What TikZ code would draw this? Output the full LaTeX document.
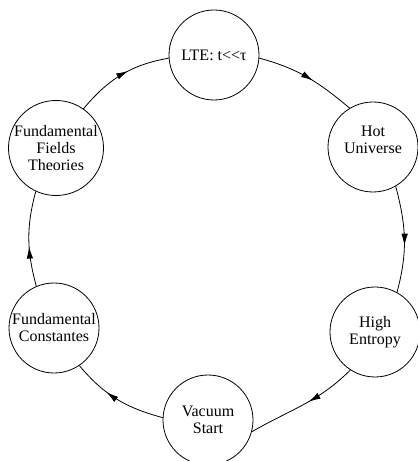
\documentclass[tikz,border=0pt]{standalone}
\usepackage{fontspec}
\setmainfont{Liberation Serif}
\usetikzlibrary{arrows.meta,decorations.markings}
\begin{document}
\begin{tikzpicture}[x=1pt,y=1pt,
  state/.style={circle,draw,line width=0.8pt,minimum size=90pt,inner sep=0pt,align=center,font=\fontsize{16}{17}\selectfont},
  flow/.style={line width=0.8pt,postaction={decorate},decoration={markings,mark=at position #1 with {\arrow{Latex[length=12pt,width=6.5pt]}}}},
  flow/.default=0.56]
\useasboundingbox (0,0) rectangle (418,461);
\node[state] (LTE) at (214,406) {LTE: t{<}{<}τ};
\node[state] (Hot) at (373,314) {Hot\\Universe\\[-3pt]\rule{0pt}{0pt}};
\node[state] (High) at (375,129) {High\\Entropy};
\node[state] (Vac) at (208,41) {Vacuum\\Start};
\node[state] (FC) at (54,133) {Fundamental\\Constantes};
\node[state] (FFT) at (56,313) {Fundamental\\Fields\\Theories};
\draw[flow=0.58] (FFT.55) to[out=50,in=190] (LTE.184);
\draw[flow] (LTE.-4) to[out=-15,in=140] (Hot.121);
\draw[flow] (Hot.-60) to[out=-75,in=75] (High.61);
\draw[flow=0.45] (High.-123) to[out=225,in=30] (Vac.-15);
\draw[flow=0.62] (Vac.177) to[out=165,in=-50] (FC.-56);
\draw[flow=0.42] (FC.113) to[out=105,in=-105] (FFT.-115);
\end{tikzpicture}
\end{document}
